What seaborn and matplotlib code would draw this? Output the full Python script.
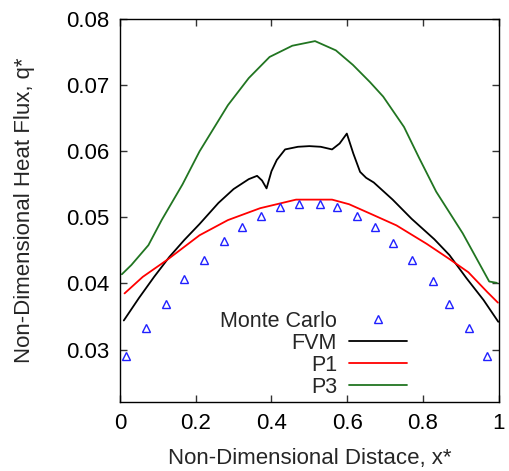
import matplotlib
matplotlib.use("Agg")
import matplotlib.pyplot as plt
import seaborn as sns
import pandas as pd

# Monte Carlo reference solution
mc_x = [0.016, 0.068, 0.121, 0.170, 0.222, 0.275, 0.321, 0.373, 0.423, 0.473,
        0.529, 0.574, 0.626, 0.673, 0.720, 0.770, 0.826, 0.869, 0.922, 0.970]
mc_q = [0.0290, 0.0333, 0.0369, 0.0407, 0.0436, 0.0464, 0.0486, 0.0502, 0.0516, 0.0521,
        0.0521, 0.0516, 0.0502, 0.0486, 0.0461, 0.0436, 0.0404, 0.0369, 0.0333, 0.0290]

# Finite volume method
fvm_x = [0.01, 0.05, 0.09, 0.13, 0.17, 0.21, 0.26, 0.30, 0.34, 0.362, 0.375, 0.387,
         0.40, 0.414, 0.436, 0.47, 0.50, 0.53, 0.56, 0.58, 0.599, 0.616, 0.634, 0.65,
         0.67, 0.72, 0.77, 0.83, 0.87, 0.915, 0.96, 0.999]
fvm_q = [0.0344, 0.0378, 0.0410, 0.0440, 0.0466, 0.0490, 0.0522, 0.0543, 0.0558, 0.0563,
         0.0556, 0.0544, 0.0570, 0.0587, 0.0603, 0.0607, 0.0608, 0.0607, 0.0603, 0.0612,
         0.0627, 0.0597, 0.0569, 0.0560, 0.0553, 0.0527, 0.0498, 0.0467, 0.0443, 0.0408,
         0.0375, 0.0342]

# P1 approximation
p1_x = [0.012, 0.06, 0.125, 0.21, 0.285, 0.37, 0.465, 0.56, 0.605, 0.66, 0.73, 0.81,
        0.87, 0.92, 0.97, 0.998]
p1_q = [0.0385, 0.0410, 0.0436, 0.0473, 0.0496, 0.0514, 0.0527, 0.0527, 0.0520, 0.0506,
        0.0488, 0.0460, 0.0437, 0.0417, 0.0387, 0.0371]

# P3 approximation
p3_x = [0.005, 0.03, 0.075, 0.11, 0.165, 0.21, 0.285, 0.34, 0.395, 0.455, 0.515, 0.57,
        0.615, 0.66, 0.695, 0.75, 0.79, 0.835, 0.905, 0.975, 0.995]
p3_q = [0.0414, 0.0428, 0.0458, 0.0496, 0.0550, 0.0600, 0.0670, 0.0711, 0.0743, 0.0760,
        0.0767, 0.0753, 0.0731, 0.0705, 0.0683, 0.0637, 0.0590, 0.0539, 0.0476, 0.0403,
        0.0401]

x_ticks = [0, 0.2, 0.4, 0.6, 0.8, 1]
x_tick_labels = ["0", "0.2", "0.4", "0.6", "0.8", "1"]
y_ticks = [0.03, 0.04, 0.05, 0.06, 0.07, 0.08]
y_tick_labels = ["0.03", "0.04", "0.05", "0.06", "0.07", "0.08"]

sns.set_theme(style="ticks")
plt.rcParams["font.family"] = ["Liberation Sans", "DejaVu Sans"]
FS = 16
LEG_FS = 15.5

fig = plt.figure(figsize=(5.10, 4.71), dpi=100)
ax = fig.add_axes([0.2353, 0.1471, 0.7425, 0.8119])

mc = pd.DataFrame({"x": mc_x, "q": mc_q})
fvm = pd.DataFrame({"x": fvm_x, "q": fvm_q})
p1 = pd.DataFrame({"x": p1_x, "q": p1_q})
p3 = pd.DataFrame({"x": p3_x, "q": p3_q})

sns.lineplot(data=fvm, x="x", y="q", ax=ax, sort=False, estimator=None,
             color="black", lw=1.3, label="FVM")
sns.lineplot(data=p1, x="x", y="q", ax=ax, sort=False, estimator=None,
             color="#ff0000", lw=1.3, label="P1")
sns.lineplot(data=p3, x="x", y="q", ax=ax, sort=False, estimator=None,
             color="#217521", lw=1.3, label="P3")
sns.lineplot(data=mc, x="x", y="q", ax=ax, sort=False, estimator=None,
             color="#2020ff", ls="none", marker="^", markersize=5.5,
             markerfacecolor="none", markeredgecolor="#2020ff", markeredgewidth=1.0,
             label="Monte Carlo")

ax.set_xlim(0, 1)
ax.set_ylim(0.0221, 0.08)
ax.set_xticks(x_ticks)
ax.set_xticklabels(x_tick_labels)
ax.set_yticks(y_ticks)
ax.set_yticklabels(y_tick_labels)
ax.tick_params(direction="in", length=5, width=1, top=True, right=True,
               labelsize=FS, pad=8, color="#333333", labelcolor="black")
for s in ax.spines.values():
    s.set_visible(True)
    s.set_linewidth(1.0)
    s.set_color("black")

ax.set_xlabel("Non-Dimensional Distace, x*", fontsize=FS, labelpad=10)
ax.set_ylabel("Non-Dimensional Heat Flux, q*", fontsize=FS, labelpad=22)

handles, labels = ax.get_legend_handles_labels()
order = [labels.index(n) for n in ["Monte Carlo", "FVM", "P1", "P3"]]
ax.legend([handles[i] for i in order], [labels[i] for i in order],
          loc="lower right", bbox_to_anchor=(407 / 510, 1 - 398 / 471),
          bbox_transform=fig.transFigure, frameon=False, fontsize=LEG_FS,
          markerfirst=False, handlelength=2.7, handletextpad=0.55,
          labelspacing=0.05, borderpad=0, borderaxespad=0)

fig.savefig("out.png", dpi=100)
